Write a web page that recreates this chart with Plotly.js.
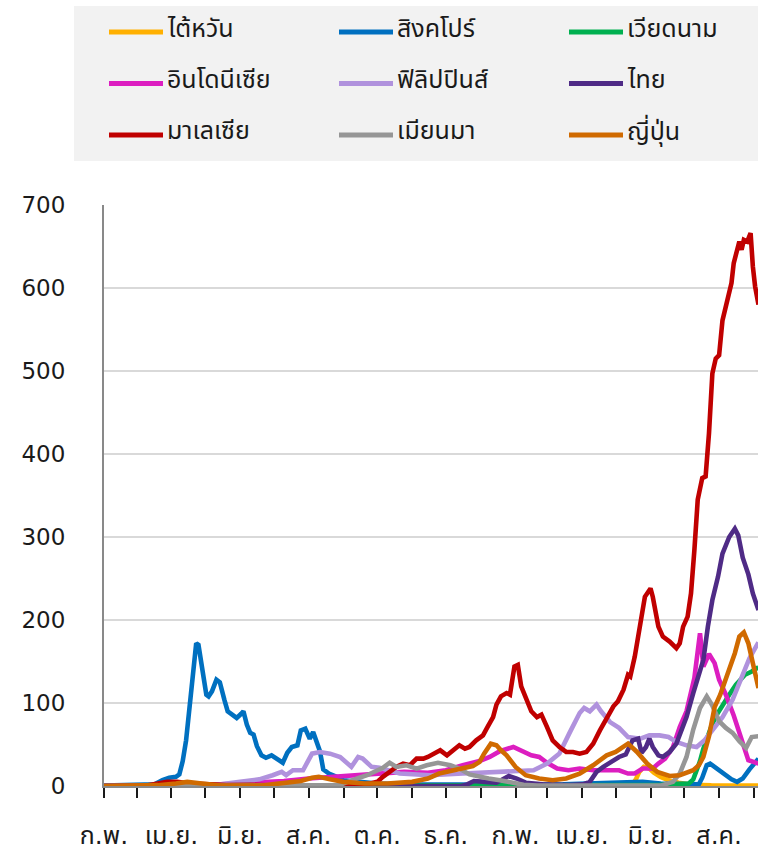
<!DOCTYPE html>
<html>
<head>
<meta charset="utf-8">
<script src="https://cdn.plot.ly/plotly-3.0.1.min.js"></script>
<style>
  html, body { margin: 0; padding: 0; background: #ffffff; }
  #chart { width: 758px; height: 851px; }
</style>
</head>
<body>
<div id="chart"></div>
<script>
// New cases per million people (7-day average), [date, value]
const taiwan = [["2020-02-01",0],["2020-04-10",0.5],["2020-05-01",0],["2021-05-12",0],["2021-05-16",2],["2021-05-19",8],["2021-05-22",17],["2021-05-26",23],["2021-05-31",21],["2021-06-04",16],["2021-06-10",11],["2021-06-17",7],["2021-06-26",4],["2021-07-08",1.5],["2021-07-25",0.7],["2021-09-05",0.4]];

const singapore = [["2020-02-01",0.5],["2020-02-20",1],["2020-03-05",1],["2020-03-17",2],["2020-03-24",7],["2020-03-30",10],["2020-04-05",11],["2020-04-08",14],["2020-04-11",30],["2020-04-14",55],["2020-04-18",107],["2020-04-21",155],["2020-04-23",172],["2020-04-25",170],["2020-04-29",136],["2020-05-02",110],["2020-05-04",108],["2020-05-07",114],["2020-05-11",128],["2020-05-14",125],["2020-05-18",104],["2020-05-21",90],["2020-05-25",86],["2020-05-29",82],["2020-06-02",87],["2020-06-04",90],["2020-06-07",74],["2020-06-10",64],["2020-06-13",62],["2020-06-16",48],["2020-06-20",37],["2020-06-24",34],["2020-06-29",37],["2020-07-04",32],["2020-07-09",28],["2020-07-13",40],["2020-07-17",47],["2020-07-22",49],["2020-07-25",67],["2020-07-29",69],["2020-08-02",57],["2020-08-05",65],["2020-08-08",55],["2020-08-11",42],["2020-08-14",20],["2020-08-19",15],["2020-08-26",11],["2020-09-01",7],["2020-09-15",5],["2020-10-01",3],["2020-10-25",2],["2020-12-01",1.5],["2021-02-01",1.5],["2021-03-15",2],["2021-04-20",3],["2021-05-10",4],["2021-05-25",5],["2021-06-10",3],["2021-07-01",2],["2021-07-14",2],["2021-07-17",10],["2021-07-21",25],["2021-07-24",27],["2021-07-29",22],["2021-08-05",15],["2021-08-12",8],["2021-08-17",5],["2021-08-22",9],["2021-08-28",20],["2021-09-05",33]];

const vietnam = [["2020-02-01",0],["2021-01-28",0],["2021-02-05",0.8],["2021-02-15",0.5],["2021-03-01",0.2],["2021-05-01",0.2],["2021-05-20",1],["2021-06-10",1.5],["2021-06-25",2],["2021-07-05",3],["2021-07-09",8],["2021-07-12",18],["2021-07-15",30],["2021-07-18",45],["2021-07-22",62],["2021-07-26",75],["2021-07-30",86],["2021-08-04",98],["2021-08-10",110],["2021-08-16",122],["2021-08-24",134],["2021-08-30",138],["2021-09-05",143]];

const indonesia = [["2020-02-01",0],["2020-03-15",0],["2020-04-15",1],["2020-05-15",2],["2020-06-15",4],["2020-07-10",6],["2020-08-01",9],["2020-09-01",12],["2020-10-01",16],["2020-10-25",17],["2020-11-15",16],["2020-12-01",19],["2020-12-16",25],["2020-12-31",30],["2021-01-09",35],["2021-01-18",42],["2021-01-30",47],["2021-02-08",42],["2021-02-15",37],["2021-02-22",35],["2021-03-01",28],["2021-03-10",21],["2021-03-20",19],["2021-03-30",21],["2021-04-11",19],["2021-04-25",19],["2021-05-04",19],["2021-05-12",15],["2021-05-18",15],["2021-05-25",21],["2021-06-03",21],["2021-06-08",27],["2021-06-14",33],["2021-06-21",47],["2021-06-27",71],["2021-07-03",90],["2021-07-10",130],["2021-07-15",184],["2021-07-18",144],["2021-07-23",159],["2021-07-28",148],["2021-08-01",128],["2021-08-07",110],["2021-08-14",85],["2021-08-21",57],["2021-08-27",31],["2021-09-05",27]];

const philippines = [["2020-02-01",0],["2020-03-20",0.5],["2020-04-15",2],["2020-05-15",2],["2020-06-01",5],["2020-06-18",8],["2020-06-30",13],["2020-07-08",17],["2020-07-12",13],["2020-07-18",19],["2020-07-27",19],["2020-08-01",31],["2020-08-04",39],["2020-08-11",41],["2020-08-20",39],["2020-08-29",35],["2020-09-04",27],["2020-09-08",23],["2020-09-14",35],["2020-09-18",33],["2020-09-26",23],["2020-10-03",22],["2020-10-21",15],["2020-11-17",13],["2020-12-16",15],["2021-01-09",17],["2021-01-30",18],["2021-02-17",19],["2021-03-01",27],["2021-03-12",39],["2021-03-21",64],["2021-03-30",88],["2021-04-03",94],["2021-04-08",90],["2021-04-14",98],["2021-04-18",90],["2021-04-26",77],["2021-05-04",70],["2021-05-12",59],["2021-05-23",57],["2021-05-31",61],["2021-06-09",61],["2021-06-17",59],["2021-06-24",53],["2021-07-03",49],["2021-07-12",47],["2021-07-19",55],["2021-07-26",67],["2021-08-04",83],["2021-08-13",104],["2021-08-22",132],["2021-08-28",154],["2021-09-05",173]];

const thailand = [["2020-02-01",0],["2020-03-20",1],["2020-04-05",2],["2020-04-20",1],["2020-05-10",0],["2020-12-15",0],["2020-12-20",2],["2020-12-26",6],["2021-01-05",5],["2021-01-15",4],["2021-01-26",12],["2021-02-02",9],["2021-02-10",4],["2021-02-25",2],["2021-03-20",1],["2021-04-02",2],["2021-04-08",5],["2021-04-14",17],["2021-04-20",23],["2021-04-26",28],["2021-05-04",35],["2021-05-10",38],["2021-05-16",55],["2021-05-21",57],["2021-05-24",40],["2021-05-28",47],["2021-05-31",57],["2021-06-03",47],["2021-06-08",37],["2021-06-12",35],["2021-06-18",41],["2021-06-24",51],["2021-06-28",67],["2021-07-03",83],["2021-07-09",112],["2021-07-13",128],["2021-07-18",152],["2021-07-22",192],["2021-07-26",224],["2021-07-31",252],["2021-08-04",280],["2021-08-10",300],["2021-08-15",310],["2021-08-18",302],["2021-08-22",275],["2021-08-27",255],["2021-08-31",232],["2021-09-05",212]];

const malaysia = [["2020-02-01",0],["2020-03-10",0.5],["2020-03-20",3],["2020-03-28",5],["2020-04-06",5],["2020-04-18",3],["2020-05-05",2],["2020-05-20",1],["2020-06-10",1.5],["2020-07-01",0.5],["2020-08-10",0.5],["2020-09-10",1],["2020-09-25",3],["2020-10-01",5],["2020-10-06",11],["2020-10-12",17],["2020-10-18",23],["2020-10-24",27],["2020-10-30",25],["2020-11-05",33],["2020-11-11",33],["2020-11-15",35],["2020-11-20",39],["2020-11-26",43],["2020-12-02",37],["2020-12-07",43],["2020-12-13",49],["2020-12-18",45],["2020-12-22",47],["2020-12-28",55],["2021-01-03",61],["2021-01-07",71],["2021-01-12",83],["2021-01-15",98],["2021-01-19",108],["2021-01-24",112],["2021-01-27",110],["2021-01-31",144],["2021-02-03",146],["2021-02-06",120],["2021-02-11",104],["2021-02-15",90],["2021-02-20",83],["2021-02-24",86],["2021-03-01",71],["2021-03-06",55],["2021-03-12",47],["2021-03-18",41],["2021-03-24",41],["2021-03-30",39],["2021-04-05",41],["2021-04-11",51],["2021-04-17",67],["2021-04-23",83],["2021-04-29",96],["2021-05-03",102],["2021-05-08",116],["2021-05-12",134],["2021-05-14",132],["2021-05-18",156],["2021-05-23",192],["2021-05-27",228],["2021-06-01",238],["2021-06-03",228],["2021-06-08",192],["2021-06-12",180],["2021-06-18",174],["2021-06-24",166],["2021-06-27",172],["2021-06-30",192],["2021-07-04",204],["2021-07-07",232],["2021-07-10",284],["2021-07-13",345],["2021-07-17",371],["2021-07-20",373],["2021-07-23",425],["2021-07-26",497],["2021-07-29",515],["2021-08-01",519],["2021-08-04",561],["2021-08-07",578],["2021-08-09",594],["2021-08-12",606],["2021-08-14",630],["2021-08-17",646],["2021-08-19",656],["2021-08-21",646],["2021-08-23",658],["2021-08-26",656],["2021-08-29",666],["2021-08-31",626],["2021-09-02",602],["2021-09-05",580]];

const myanmar = [["2020-02-01",0],["2020-08-20",0],["2020-08-28",1],["2020-09-03",4],["2020-09-08",7],["2020-09-15",10],["2020-09-22",13],["2020-10-01",19],["2020-10-06",22],["2020-10-12",28],["2020-10-18",23],["2020-10-27",25],["2020-11-05",21],["2020-11-14",25],["2020-11-24",28],["2020-12-05",25],["2020-12-13",21],["2020-12-22",14],["2020-12-30",11],["2021-01-08",9],["2021-01-18",7],["2021-01-28",4],["2021-02-08",1.5],["2021-02-20",0.5],["2021-06-10",0.5],["2021-06-21",5],["2021-06-27",15],["2021-07-03",35],["2021-07-09",68],["2021-07-15",94],["2021-07-21",108],["2021-07-26",97],["2021-08-01",78],["2021-08-07",70],["2021-08-13",64],["2021-08-19",54],["2021-08-25",46],["2021-08-30",59],["2021-09-05",60]];

const japan = [["2020-02-01",0],["2020-03-20",1],["2020-04-05",3],["2020-04-15",5],["2020-04-28",3],["2020-05-15",0.5],["2020-06-20",0.5],["2020-07-10",3],["2020-07-25",6],["2020-08-04",10],["2020-08-10",11],["2020-08-20",8],["2020-09-01",5],["2020-09-20",3],["2020-10-10",3],["2020-11-01",5],["2020-11-15",9],["2020-11-25",15],["2020-12-10",19],["2020-12-25",24],["2020-12-31",29],["2021-01-04",39],["2021-01-10",51],["2021-01-15",49],["2021-01-19",43],["2021-01-24",37],["2021-02-01",23],["2021-02-10",13],["2021-02-22",9],["2021-03-06",7],["2021-03-18",9],["2021-03-30",15],["2021-04-11",25],["2021-04-23",37],["2021-05-01",41],["2021-05-08",47],["2021-05-12",51],["2021-05-20",41],["2021-05-29",27],["2021-06-07",17],["2021-06-18",12],["2021-06-27",13],["2021-07-09",19],["2021-07-14",25],["2021-07-18",35],["2021-07-23",60],["2021-07-28",95],["2021-08-02",110],["2021-08-07",128],["2021-08-15",160],["2021-08-19",180],["2021-08-23",185],["2021-08-27",172],["2021-09-01",145],["2021-09-05",118]];

// Series in drawing order (later ones are drawn on top)
const seriesData   = [taiwan, singapore, vietnam, indonesia, philippines, thailand, malaysia, myanmar, japan];
const seriesNames  = ["ไต้หวัน", "สิงคโปร์", "เวียดนาม", "อินโดนีเซีย", "ฟิลิปปินส์", "ไทย", "มาเลเซีย", "เมียนมา", "ญี่ปุ่น"];
const seriesColors = ["#FFB000", "#0070C0", "#00B050", "#DC1EC0", "#B092DD", "#4F2B86", "#C00000", "#969696", "#D06A00"];

// Month ticks on the date axis, labelled every second month
const monthTicks  = ["2020-02-01","2020-03-01","2020-04-01","2020-05-01","2020-06-01","2020-07-01","2020-08-01","2020-09-01","2020-10-01","2020-11-01","2020-12-01","2021-01-01","2021-02-01","2021-03-01","2021-04-01","2021-05-01","2021-06-01","2021-07-01","2021-08-01","2021-09-01"];
const monthLabels = ["ก.พ.","","เม.ย.","","มิ.ย.","","ส.ค.","","ต.ค.","","ธ.ค.","","ก.พ.","","เม.ย.","","มิ.ย.","","ส.ค.",""];
const yTicks = [0, 100, 200, 300, 400, 500, 600, 700];

// Plot frame in pixels
const FRAME = { left: 104, top: 205, width: 654, height: 581 };
const px2x = px => (px - FRAME.left) / FRAME.width;
const py2y = py => (FRAME.top + FRAME.height - py) / FRAME.height;

const thaiFont = "Tahoma, 'DejaVu Sans', 'Noto Sans Thai', sans-serif";

const traces = seriesData.map((s, i) => ({
  type: "scatter",
  mode: "lines",
  name: seriesNames[i],
  x: s.map(p => p[0]),
  y: s.map(p => p[1]),
  line: { color: seriesColors[i], width: 4.6 },
  hoverinfo: "skip",
  showlegend: false
}));

// Legend block: grey panel with three columns of line samples and names
const shapes = [{
  type: "rect", xref: "paper", yref: "paper", layer: "below",
  x0: px2x(74), x1: px2x(766), y0: py2y(161), y1: py2y(6),
  fillcolor: "#f2f2f2", line: { width: 0 }
}];
const annotations = [];
const legendCols = [109, 339, 569];
const legendRows = [32, 83.5, 135];
seriesNames.forEach((name, i) => {
  const cx = legendCols[i % 3];
  const cy = legendRows[Math.floor(i / 3)];
  shapes.push({
    type: "line", xref: "paper", yref: "paper",
    x0: px2x(cx), x1: px2x(cx + 54), y0: py2y(cy), y1: py2y(cy),
    line: { color: seriesColors[i], width: 5 }
  });
  annotations.push({
    xref: "paper", yref: "paper", x: px2x(cx + 56), y: py2y(cy - 4),
    xanchor: "left", yanchor: "middle", showarrow: false,
    text: name, font: { family: thaiFont, size: 25, color: "#1a1a1a" }
  });
});

const layout = {
  width: 758, height: 851,
  margin: { l: FRAME.left, r: 0, t: FRAME.top, b: 851 - FRAME.top - FRAME.height },
  paper_bgcolor: "#ffffff", plot_bgcolor: "#ffffff",
  showlegend: false,
  xaxis: {
    type: "date",
    range: ["2020-02-01", "2021-09-04 14:00"],
    tickmode: "array", tickvals: monthTicks, ticktext: monthLabels,
    ticks: "outside", ticklen: 10, tickwidth: 2, tickcolor: "#1a1a1a",
    showgrid: false, zeroline: false,
    showline: true, linecolor: "#898989", linewidth: 2,
    tickfont: { family: thaiFont, size: 25, color: "#1a1a1a" },
    ticklabelstandoff: 16,
    fixedrange: true
  },
  yaxis: {
    range: [0, 700],
    tickmode: "array", tickvals: yTicks,
    ticks: "", showgrid: true, gridcolor: "#d9d9d9", gridwidth: 2,
    zeroline: false,
    showline: true, linecolor: "#898989", linewidth: 2,
    tickfont: { family: "Tahoma, 'DejaVu Sans', sans-serif", size: 23, color: "#1a1a1a" },
    ticklabelstandoff: 32,
    fixedrange: true
  },
  shapes: shapes,
  annotations: annotations
};

Plotly.newPlot("chart", traces, layout, { displayModeBar: false, staticPlot: true });
</script>
</body>
</html>
